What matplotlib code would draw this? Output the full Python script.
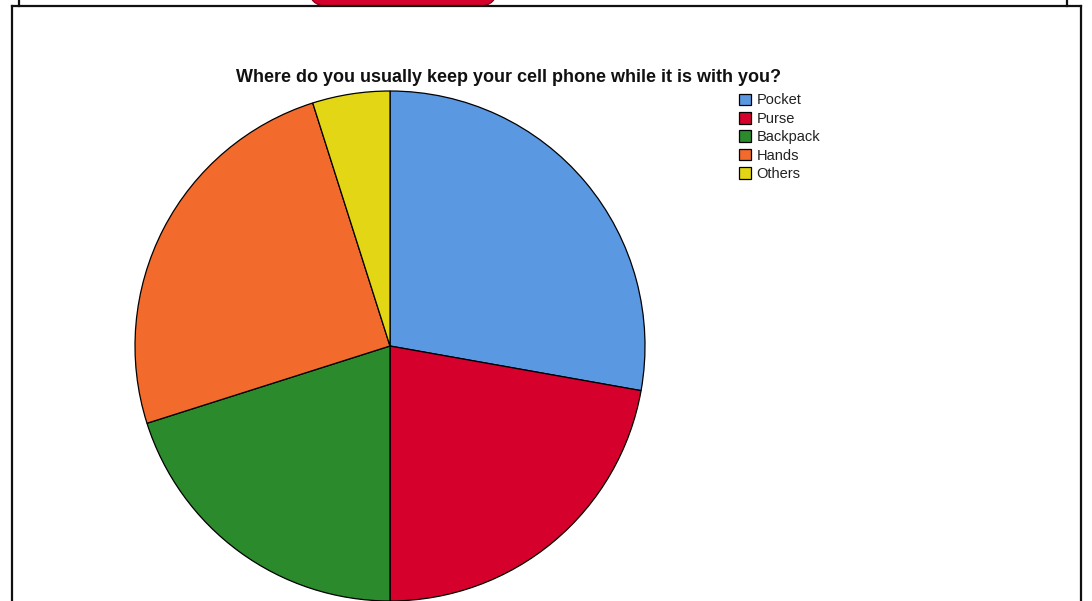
import matplotlib
matplotlib.use("Agg")
import matplotlib.pyplot as plt
from matplotlib.patches import FancyBboxPatch
from matplotlib.lines import Line2D

plt.rcParams['font.family'] = ['Liberation Sans', 'DejaVu Sans']

# Survey responses (percent of respondents)
categories = ["Pocket", "Purse", "Backpack", "Hands", "Others"]
shares = [27.8, 22.2, 20.1, 25.0, 4.9]
colors = ["#5B98E2", "#D5002C", "#2B8A2B", "#F26A2C", "#E2D615"]
title = "Where do you usually keep your cell phone while it is with you?"

W, H = 1092, 601
fig = plt.figure(figsize=(W / 100, H / 100), dpi=100)
ax = fig.add_axes([0, 0, 1, 1])

# Red button peeking in from the panel above
ax.add_patch(FancyBboxPatch((309, 595), 188, 40,
                            boxstyle="round,pad=0,rounding_size=18",
                            facecolor='#D5002C', edgecolor='#7a0012',
                            lw=0.8, zorder=0.5))

wedges, _ = ax.pie(shares, colors=colors, startangle=90, counterclock=False,
                   center=(390, H - 346), radius=255, frame=True,
                   wedgeprops=dict(edgecolor='black', linewidth=0.9))
ax.set_xlim(0, W)
ax.set_ylim(0, H)
ax.set_aspect('equal')
ax.axis('off')

# Page frame: lower panel border and the edge of the panel above it
frame_kw = dict(color='#111111', lw=1.6, zorder=3)
ax.add_line(Line2D([12, 12], [0, 595.5], **frame_kw))
ax.add_line(Line2D([1081, 1081], [0, 595.5], **frame_kw))
ax.add_line(Line2D([12, 1081], [595.5, 595.5], **frame_kw))
ax.add_line(Line2D([19, 19], [595.5, H], **frame_kw))
ax.add_line(Line2D([1067, 1067], [595.5, H], **frame_kw))

fig.text(509 / W, 1 - 77.5 / H, title, ha='center', va='center',
         fontsize=13, fontweight='bold', color='#111111')

leg = ax.legend(wedges, categories, loc='upper left',
                bbox_to_anchor=(739 / W, 1 - 93.5 / H),
                bbox_transform=fig.transFigure,
                frameon=False, fontsize=10.5, handlelength=0.85,
                handleheight=0.85, handletextpad=0.35, labelspacing=0.30,
                borderpad=0, borderaxespad=0)
for t in leg.get_texts():
    t.set_color('#222222')

fig.savefig("out.png", dpi=100, facecolor='white')
